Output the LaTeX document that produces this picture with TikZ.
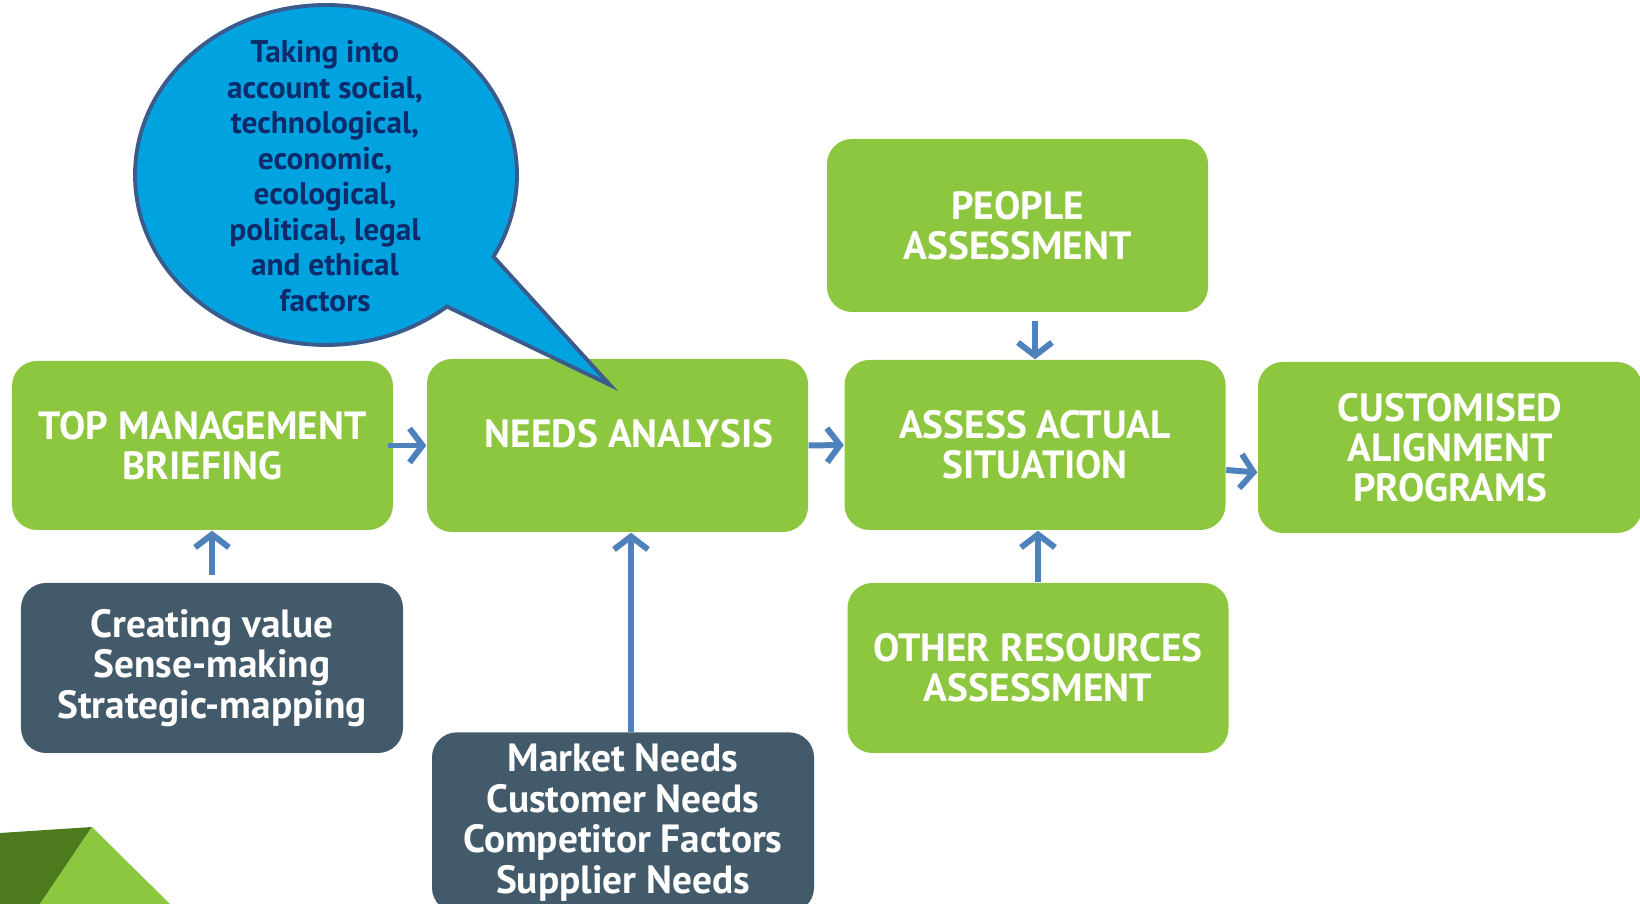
\documentclass[tikz,border=0pt]{standalone}
\usepackage{fontspec}
\setsansfont{PT Sans}
\usetikzlibrary{arrows.meta,shapes.callouts}

\definecolor{boxgreen}{HTML}{8DC63F}
\definecolor{leafgreen}{HTML}{4E7A1E}
\definecolor{slate}{HTML}{435A6B}
\definecolor{bubblue}{HTML}{00A3E0}
\definecolor{bubedge}{HTML}{3B5B8C}
\definecolor{navy}{HTML}{0D2A6A}
\definecolor{arrowblue}{HTML}{4F81BD}

\begin{document}
\begin{tikzpicture}[
        greenbox/.style={fill=boxgreen, rounded corners=0.25cm, minimum width=3.81cm, minimum height=1.70cm,
                         text=white, align=center, font=\sffamily\bfseries\fontsize{11.2}{11.4}\selectfont},
        darkbox/.style={fill=slate, rounded corners=0.25cm, minimum width=3.82cm, minimum height=1.70cm,
                        text=white, align=center, font=\sffamily\bfseries\fontsize{11.2}{11.5}\selectfont},
        flow/.style={draw=arrowblue, line width=1.7pt, -{Straight Barb[length=0.13cm, width=0.34cm]}}
    ]
        \useasboundingbox (0,0) rectangle (16.4,9.04);
        \clip (0,0) rectangle (16.4,9.04);

        % corner decoration
        \fill[leafgreen] (0,0) -- (0,0.71) -- (0.92,0.77) -- (0.40,0) -- cycle;
        \fill[boxgreen] (0.92,0.77) -- (1.70,0) -- (0.40,0) -- cycle;

        \node[greenbox, minimum height=1.69cm] (tmb) at (2.025,4.585) {TOP MANAGEMENT\\BRIEFING};
        \node[greenbox, minimum height=1.73cm, text depth=0.24cm] (na) at (6.175,4.585) {\hspace*{0.23cm}NEEDS ANALYSIS};
        \node[greenbox] (aas) at (10.35,4.59) {ASSESS ACTUAL\\SITUATION};
        \node[greenbox, minimum width=3.84cm, minimum height=1.71cm] (cap) at (14.50,4.565) {CUSTOMISED\\ALIGNMENT\\PROGRAMS};
        \node[greenbox, minimum height=1.73cm] (pa) at (10.175,6.785) {PEOPLE\\ASSESSMENT};
        \node[greenbox] (ora) at (10.38,2.36) {OTHER RESOURCES\\ASSESSMENT};

        \node[darkbox] (cv) at (2.12,2.36) {Creating value\\Sense-making\\Strategic-mapping};
        \node[darkbox, minimum height=1.79cm] (mn) at (6.23,0.815) {Market Needs\\Customer Needs\\Competitor Factors\\Supplier Needs};

        \draw[flow] ([xshift=-0.06cm]tmb.east) -- (na.west);
        \draw[flow] (na.east) -- (aas.west);
        \draw[flow] ([yshift=-0.25cm]aas.east) -- ([yshift=-0.25cm]cap.west);
        \draw[flow, shorten <=0.08cm] (pa.south -| aas.north) -- (aas.north);
        \draw[flow] (ora.north) -- (ora.north |- aas.south);
        \draw[flow, shorten <=0.07cm] (cv.north) -- (cv.north |- tmb.south);
        \draw[flow] ([xshift=0.08cm]mn.north) -- ([xshift=0.08cm]mn.north |- na.south);

        % speech bubble
        \coordinate (tip) at (6.10,5.19);
        \node[ellipse callout, fill=bubblue, draw=bubedge, line width=1.1pt, minimum width=3.82cm, minimum height=3.40cm,
              inner sep=0pt, callout absolute pointer={(tip)}, callout pointer arc=22] (bubble) at (3.26,7.29) {};
        \node[text=navy, align=center, font=\sffamily\bfseries\fontsize{8.9}{10.1}\selectfont] (bubtext) at (3.25,7.28)
            {Taking into\\account social,\\technological,\\economic,\\ecological,\\political, legal\\and ethical\\factors};
\end{tikzpicture}
\end{document}
